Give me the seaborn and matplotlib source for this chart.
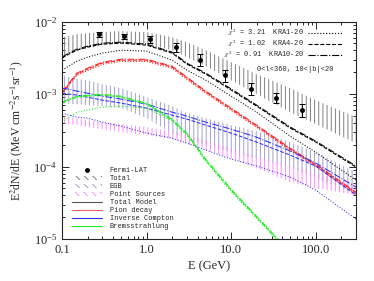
import numpy as np
import matplotlib
matplotlib.use("Agg")
import matplotlib.pyplot as plt
from matplotlib.patches import Patch
from matplotlib.lines import Line2D
from matplotlib.ticker import FixedLocator, FixedFormatter, LogLocator, NullFormatter
import seaborn as sns

sns.set_style("ticks")
plt.rcParams['font.family'] = ['Liberation Serif', 'DejaVu Serif']
plt.rcParams['mathtext.fontset'] = 'stix'
plt.rcParams['hatch.linewidth'] = 0.7

MONO = ['Liberation Mono', 'DejaVu Sans Mono']

# energy grid (GeV) for model curves and bands
energy = [0.1, 0.12, 0.15, 0.2, 0.3, 0.5, 1, 2, 3, 5, 10, 20, 50, 100, 300]

# Fermi-LAT points (MeV cm^-2 s^-1 sr^-1)
lat_e = [0.27, 0.54, 1.1, 2.2, 4.3, 8.5, 17, 34, 69]
lat_flux = [6.7e-3, 6.3e-3, 5.7e-3, 4.45e-3, 2.94e-3, 1.83e-3, 1.17e-3, 8.8e-4, 6.0e-4]
lat_hi = [7.2e-3, 6.7e-3, 6.3e-3, 5.0e-3, 3.56e-3, 2.15e-3, 1.42e-3, 1.03e-3, 7.3e-4]
lat_lo = [6.1e-3, 5.7e-3, 5.0e-3, 3.8e-3, 2.43e-3, 1.47e-3, 0.97e-3, 7.5e-4, 4.8e-4]

# hatched bands
total_lo = [3.34e-3, 3.68e-3, 4.04e-3, 4.31e-3, 4.74e-3, 5.05e-3, 4.89e-3, 4.04e-3, 3.24e-3,
            2.43e-3, 1.56e-3, 1.0e-3, 5.64e-4, 3.86e-4, 2.11e-4]
total_hi = [6.11e-3, 6.31e-3, 6.73e-3, 6.94e-3, 7.17e-3, 7.4e-3, 7.17e-3, 6.11e-3, 5.21e-3,
            4.04e-3, 2.76e-3, 1.89e-3, 1.21e-3, 8.26e-4, 4.82e-4]
egb_lo = [7.51e-4, 7.28e-4, 7.28e-4, 7.05e-4, 6.83e-4, 6.41e-4, 4.67e-4, 2.9e-4, 2.39e-4,
          1.98e-4, 1.58e-4, 1.31e-4, 9.84e-5, 6.94e-5, 4.17e-5]
egb_hi = [1.83e-3, 1.72e-3, 1.61e-3, 1.56e-3, 1.37e-3, 1.21e-3, 9.09e-4, 6.83e-4, 5.47e-4,
          4.67e-4, 3.74e-4, 3.09e-4, 2.18e-4, 1.58e-4, 8.39e-5]
ps_lo = [3.98e-4, 3.86e-4, 3.74e-4, 3.5e-4, 3.29e-4, 2.99e-4, 2.72e-4, 2.39e-4, 2.04e-4,
         1.69e-4, 1.31e-4, 9.53e-5, 6.11e-5, 5.05e-5, 4.04e-5]
ps_hi = [4.97e-4, 4.82e-4, 4.67e-4, 4.38e-4, 4.11e-4, 3.86e-4, 3.5e-4, 3.09e-4, 2.72e-4,
         2.32e-4, 1.8e-4, 1.4e-4, 1.02e-4, 8.13e-5, 5.92e-5]

# model components for KRA1-20 (dotted), KRA4-20 (dashed), KRA10-20 (dash-dot)
total_kra1 = [2.14e-3, 2.43e-3, 2.85e-3, 3.24e-3, 3.68e-3, 4.04e-3, 3.92e-3, 2.94e-3, 2.14e-3,
              1.56e-3, 9.38e-4, 5.64e-4, 2.63e-4, 1.58e-4, 6.51e-5]
total_kra4 = [3.14e-3, 3.56e-3, 4.04e-3, 4.45e-3, 4.89e-3, 5.05e-3, 4.74e-3, 3.68e-3, 2.59e-3,
              1.89e-3, 1.14e-3, 6.83e-4, 3.4e-4, 2.18e-4, 9.84e-5]
total_kra10 = [3.24e-3, 3.67e-3, 4.17e-3, 4.59e-3, 5.05e-3, 5.21e-3, 4.89e-3, 3.8e-3, 2.67e-3,
               1.95e-3, 1.18e-3, 7.05e-4, 3.51e-4, 2.25e-4, 1.02e-4]
pion_kra1 = [0.99e-3, 1.32e-3, 1.81e-3, 2.12e-3, 2.57e-3, 2.82e-3, 2.82e-3, 2.27e-3, 1.59e-3,
             1.03e-3, 5.96e-4, 3.48e-4, 1.67e-4, 1.01e-4, 4.14e-5]
pion_kra4 = [1.03e-3, 1.37e-3, 1.89e-3, 2.21e-3, 2.68e-3, 2.94e-3, 2.94e-3, 2.36e-3, 1.66e-3,
             1.07e-3, 6.21e-4, 3.62e-4, 1.74e-4, 1.05e-4, 4.31e-5]
pion_kra10 = [1.06e-3, 1.41e-3, 1.95e-3, 2.28e-3, 2.76e-3, 3.03e-3, 3.03e-3, 2.43e-3, 1.71e-3,
              1.1e-3, 6.4e-4, 3.73e-4, 1.79e-4, 1.08e-4, 4.44e-5]
ic_kra1 = [5.47e-4, 5.13e-4, 4.82e-4, 4.67e-4, 4.11e-4, 3.62e-4, 2.9e-4, 2.47e-4, 2.11e-4,
           1.69e-4, 1.27e-4, 1.02e-4, 7.17e-5, 4.74e-5, 1.89e-5]
ic_kra4 = [1.03e-3, 1.0e-3, 9.69e-4, 9.09e-4, 8.26e-4, 7.51e-4, 6.41e-4, 5.13e-4, 4.52e-4,
           3.74e-4, 2.9e-4, 2.18e-4, 1.44e-4, 1.02e-4, 4.04e-5]
ic_kra10 = [1.21e-3, 1.17e-3, 1.1e-3, 1.03e-3, 9.38e-4, 8.53e-4, 7.28e-4, 5.64e-4, 4.97e-4,
            4.11e-4, 3.29e-4, 2.55e-4, 1.64e-4, 1.12e-4, 5.21e-5]
brems_kra1 = [4.11e-4, 4.82e-4, 5.64e-4, 6.02e-4, 6.62e-4, 6.83e-4, 6.41e-4, 4.3e-4, 2.7e-4,
              1.18e-4, 4.55e-5, 1.93e-5, 6.15e-6, 2.6e-6, 6.7e-7]
brems_kra4 = [7.51e-4, 8.26e-4, 9.09e-4, 9.38e-4, 9.69e-4, 9.09e-4, 7.28e-4, 4.38e-4, 2.81e-4,
              1.23e-4, 4.74e-5, 2.01e-5, 6.41e-6, 2.72e-6, 6.94e-7]
brems_kra10 = [7.74e-4, 8.5e-4, 9.36e-4, 9.66e-4, 9.98e-4, 9.36e-4, 7.5e-4, 4.51e-4, 2.89e-4,
               1.27e-4, 4.88e-5, 2.07e-5, 6.6e-6, 2.8e-6, 7.15e-7]

chi2 = ["3.21", "1.02", "0.91"]
models = ["KRA1-20", "KRA4-20", "KRA10-20"]
styles = [":", "--", "-."]

fig = plt.figure(figsize=(3.74, 2.81), dpi=100)
ax = fig.add_axes([0.166, 0.149, 0.786, 0.774])

# bands
ax.fill_between(energy, total_lo, total_hi, facecolor="none", edgecolor="#808080",
                hatch="||||", linewidth=0)
ax.fill_between(energy, egb_lo, egb_hi, facecolor="none", edgecolor="#a0a0d4",
                hatch="||||", linewidth=0)
ax.fill_between(energy, ps_lo, ps_hi, facecolor="none", edgecolor="#ff8cff",
                hatch="||||", linewidth=0)

comps = [
    ("black", [total_kra1, total_kra4, total_kra10]),
    ("#ff2020", [pion_kra1, pion_kra4, pion_kra10]),
    ("#3030ff", [ic_kra1, ic_kra4, ic_kra10]),
    ("#22ee22", [brems_kra1, brems_kra4, brems_kra10]),
]
for color, series in comps:
    for vals, ls in zip(series, styles):
        sns.lineplot(x=energy, y=vals, ax=ax, color=color, linestyle=ls, linewidth=0.75)

ax.errorbar(lat_e, lat_flux,
            yerr=[np.array(lat_flux) - np.array(lat_lo), np.array(lat_hi) - np.array(lat_flux)],
            fmt="o", color="black", markersize=2.5, elinewidth=0.7, capsize=2, capthick=0.7)

ax.set_xscale("log")
ax.set_yscale("log")
ax.set_xlim(0.1, 300)
ax.set_ylim(1e-5, 1e-2)
ax.xaxis.set_major_locator(FixedLocator([0.1, 1, 10, 100]))
ax.xaxis.set_major_formatter(FixedFormatter(["0.1", "1.0", "10.0", "100.0"]))
ax.xaxis.set_minor_locator(LogLocator(base=10, subs=np.arange(2, 10)))
ax.xaxis.set_minor_formatter(NullFormatter())
ax.yaxis.set_minor_locator(LogLocator(base=10, subs=np.arange(2, 10)))
ax.yaxis.set_minor_formatter(NullFormatter())
ax.tick_params(which="both", direction="in", top=True, right=True, width=0.7, labelsize=9)
ax.tick_params(which="major", length=5)
ax.tick_params(which="minor", length=2.5)
for s in ax.spines.values():
    s.set_linewidth(0.8)

ax.set_xlabel("E (GeV)", fontsize=9, labelpad=3)
ax.set_ylabel(r"E$^2$dN/dE (MeV cm$^{-2}$s$^{-1}$sr$^{-1}$)", fontsize=8.5, labelpad=6)

ax.text(0.663, 0.78, "0<l<360, 10<|b|<20", transform=ax.transAxes, fontsize=5,
        family=MONO, va="center")

# model legend (top right)
mh = [Line2D([], [], color="black", linestyle=ls, linewidth=0.8) for ls in styles]
ml = [r"$\chi^2$ = %s  %s" % (c, m) for c, m in zip(chi2, models)]
leg1 = ax.legend(mh, ml, loc="upper right", bbox_to_anchor=(0.965, 0.985), frameon=False,
                 markerfirst=False, prop={"family": MONO, "size": 5}, borderaxespad=0,
                 handlelength=5, labelspacing=0.05, handletextpad=0.6)
ax.add_artist(leg1)

# component legend (bottom left)
ch = [
    Line2D([], [], marker="o", color="black", linestyle="none", markersize=2.5),
    Patch(facecolor="none", edgecolor="#808080", hatch="\\\\\\\\", linewidth=0),
    Patch(facecolor="none", edgecolor="#a0a0d4", hatch="\\\\\\\\", linewidth=0),
    Patch(facecolor="none", edgecolor="#ff8cff", hatch="\\\\\\\\", linewidth=0),
    Line2D([], [], color="#555555", linewidth=0.8),
    Line2D([], [], color="#ff6060", linewidth=0.8),
    Line2D([], [], color="#3030ff", linewidth=0.8),
    Line2D([], [], color="#22ee22", linewidth=0.8),
]
cl = ["Fermi-LAT", "Total", "EGB", "Point Sources", "Total Model", "Pion decay",
      "Inverse Compton", "Bremsstrahlung"]
ax.legend(ch, cl, loc="lower left", bbox_to_anchor=(0.035, 0.04), frameon=False,
          prop={"family": MONO, "size": 5}, handlelength=4.2, labelspacing=0.15,
          handletextpad=1.2, handleheight=0.6, borderaxespad=0, borderpad=0)

fig.savefig("out.png", dpi=100)
